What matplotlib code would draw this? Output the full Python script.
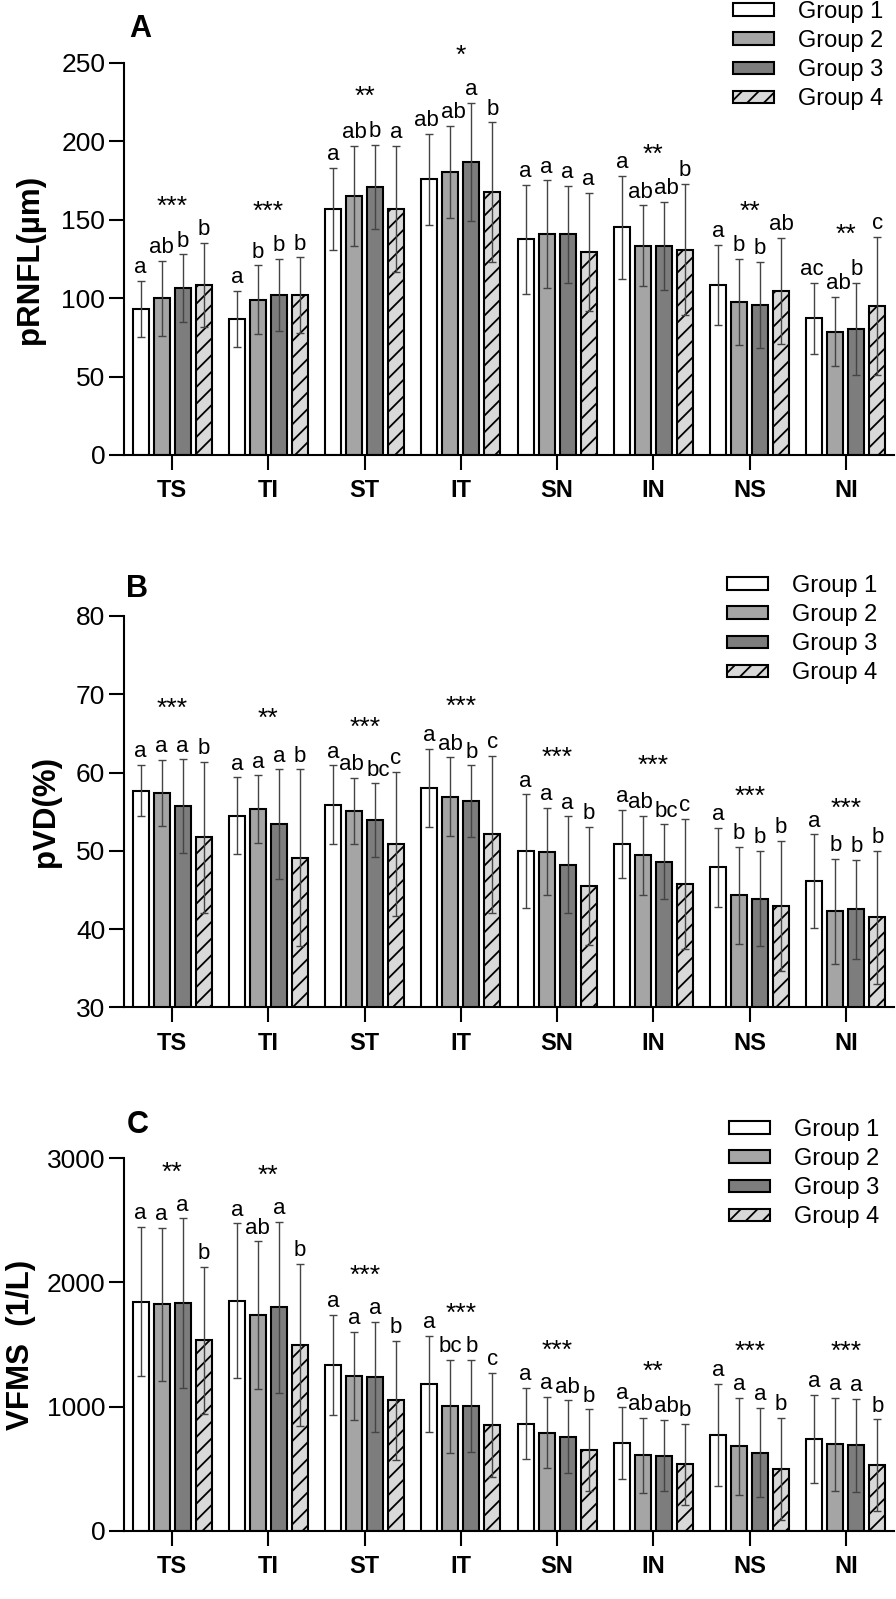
import numpy as np
import matplotlib
matplotlib.use("Agg")
import matplotlib.pyplot as plt

plt.rcParams["font.family"] = ["Liberation Sans", "DejaVu Sans"]
plt.rcParams["hatch.linewidth"] = 1.3

# ============================================================
# Data
# ============================================================
regions = ["TS", "TI", "ST", "IT", "SN", "IN", "NS", "NI"]
groups = ["Group 1", "Group 2", "Group 3", "Group 4"]

# --- Panel A: pRNFL (µm) ---
rnfl_mean = [
    [93.0, 86.7, 157.0, 176.0, 137.5, 145.2, 108.4, 87.2],
    [100.0, 98.9, 165.0, 180.6, 140.7, 133.5, 97.8, 78.7],
    [106.5, 102.0, 171.0, 187.0, 140.7, 133.5, 95.7, 80.6],
    [108.4, 102.0, 157.0, 167.5, 129.7, 131.0, 104.8, 95.0],
]
rnfl_sd = [
    [18.0, 18.0, 26.0, 29.0, 35.0, 33.0, 25.7, 22.5],
    [24.0, 22.0, 32.0, 29.5, 34.5, 25.7, 27.4, 22.0],
    [21.5, 23.0, 27.0, 37.6, 31.0, 28.0, 27.4, 29.4],
    [27.0, 24.0, 40.0, 44.6, 37.6, 41.8, 33.8, 44.0],
]
rnfl_letters = [
    ["a", "ab", "b", "b"], ["a", "b", "b", "b"], ["a", "ab", "b", "a"],
    ["ab", "ab", "a", "b"], ["a", "a", "a", "a"], ["a", "ab", "ab", "b"],
    ["a", "b", "b", "ab"], ["ac", "ab", "b", "c"],
]
rnfl_stars = ["***", "***", "**", "*", "", "**", "**", "**"]

# --- Panel B: pVD (%) ---
pvd_mean = [
    [57.7, 54.5, 55.9, 58.0, 49.95, 50.85, 47.9, 46.1],
    [57.4, 55.3, 55.1, 56.9, 49.9, 49.4, 44.3, 42.25],
    [55.7, 53.4, 53.9, 56.3, 48.2, 48.6, 43.9, 42.5],
    [51.7, 49.1, 50.85, 52.1, 45.5, 45.8, 43.0, 41.5],
]
pvd_sd = [
    [3.3, 4.9, 5.0, 5.0, 7.25, 4.35, 5.05, 6.0],
    [4.2, 4.35, 4.2, 5.05, 5.6, 5.1, 6.2, 6.7],
    [6.0, 7.0, 4.7, 4.6, 6.2, 4.8, 6.1, 6.35],
    [9.7, 11.3, 9.2, 10.0, 7.6, 8.3, 8.3, 8.5],
]
pvd_letters = [
    ["a", "a", "a", "b"], ["a", "a", "a", "b"], ["a", "ab", "bc", "c"],
    ["a", "ab", "b", "c"], ["a", "a", "a", "b"], ["a", "ab", "bc", "c"],
    ["a", "b", "b", "b"], ["a", "b", "b", "b"],
]
pvd_stars = ["***", "**", "***", "***", "***", "***", "***", "***"]

# --- Panel C: VFMS (1/L) ---
vfms_mean = [
    [1845, 1853, 1335, 1182, 862, 709, 771, 739],
    [1824, 1738, 1249, 1002, 790, 607, 680, 696],
    [1832, 1800, 1238, 1005, 757, 604, 628, 688],
    [1534, 1499, 1050, 854, 648, 535, 497, 529],
]
vfms_sd = [
    [602, 623, 403, 387, 288, 290, 413, 354],
    [617, 593, 354, 373, 287, 303, 391, 373],
    [685, 687, 446, 370, 293, 288, 360, 373],
    [590, 652, 478, 419, 330, 325, 411, 368],
]
vfms_letters = [
    ["a", "a", "a", "b"], ["a", "ab", "a", "b"], ["a", "a", "a", "b"],
    ["a", "bc", "b", "c"], ["a", "a", "ab", "b"], ["a", "ab", "ab", "b"],
    ["a", "a", "a", "b"], ["a", "a", "a", "b"],
]
vfms_stars = ["**", "**", "***", "***", "***", "**", "***", "***"]

# ============================================================
# Style
# ============================================================
FACE = ["white", "#a5a5a5", "#7d7d7d", "#d9d9d9"]
HATCH = [None, None, None, "//"]
BAR_W = 0.165
PITCH = 0.218
W, H, DPI = 896, 1599, 100


def letter_shifts(labels):
    """Nudge neighbouring two-letter labels apart so they do not collide."""
    dx = [0.0] * len(labels)
    for g in range(len(labels) - 1):
        if len(labels[g]) > 1 and len(labels[g + 1]) > 1:
            dx[g] -= 2.0
            dx[g + 1] += 2.0
    return dx


def draw_panel(ax, means, sds, letters, stars, ylim, yticks, ylabel, label_x,
               star_off):
    x = np.arange(len(regions))
    for g in range(4):
        xpos = x + (g - 1.5) * PITCH
        ax.bar(xpos, means[g], width=BAR_W, color=FACE[g], edgecolor="black",
               linewidth=1.5, hatch=HATCH[g], label=groups[g], zorder=2)
        ax.errorbar(xpos, means[g], yerr=sds[g], fmt="none", ecolor="#444444",
                    elinewidth=1.0, capsize=3.2, capthick=1.0, zorder=3)
    for i in range(len(regions)):
        dx = letter_shifts(letters[i])
        for g in range(4):
            xg = x[i] + (g - 1.5) * PITCH
            ax.annotate(letters[i][g], xy=(xg, means[g][i] + sds[g][i]),
                        xytext=(dx[g], 5.5), textcoords="offset points",
                        ha="center", va="baseline", fontsize=16)
    # significance stars over the middle of each region
    for i in range(len(regions)):
        if not stars[i]:
            continue
        top = max(means[1][i] + sds[1][i], means[2][i] + sds[2][i])
        ax.annotate(stars[i], xy=(x[i], top), xytext=(0, star_off),
                    textcoords="offset points", ha="center", va="baseline",
                    fontsize=19)

    ax.set_xlim(-0.5, len(regions) - 0.5)
    ax.set_ylim(*ylim)
    ax.set_yticks(yticks)
    ax.set_xticks(x)
    ax.set_xticklabels(regions, fontsize=17, fontweight="bold")
    ax.tick_params(axis="y", labelsize=19, length=10.5, width=1.5, pad=3)
    ax.tick_params(axis="x", length=10.5, width=1.5, pad=7)
    for side in ("top", "right"):
        ax.spines[side].set_visible(False)
    for side in ("left", "bottom"):
        ax.spines[side].set_linewidth(1.5)
    ax.set_ylabel(ylabel, fontsize=22.5, fontweight="bold")
    ax.yaxis.set_label_coords(label_x, 0.5)


fig = plt.figure(figsize=(W / DPI, H / DPI), dpi=DPI)

# axes boxes measured in pixels: (left, top, right, bottom)
boxes = [(124, 63, 894, 455), (124, 616, 894, 1007.3), (124, 1158.3, 894, 1530.7)]
axes = [fig.add_axes([l / W, 1 - b / H, (r - l) / W, (b - t) / H])
        for l, t, r, b in boxes]

draw_panel(axes[0], rnfl_mean, rnfl_sd, rnfl_letters, rnfl_stars,
           (0, 250), [0, 50, 100, 150, 200, 250], "pRNFL(µm)", -0.103, 29)
draw_panel(axes[1], pvd_mean, pvd_sd, pvd_letters, pvd_stars,
           (30, 80), [30, 40, 50, 60, 70, 80], "pVD(%)", -0.082, 31)
draw_panel(axes[2], vfms_mean, vfms_sd, vfms_letters, vfms_stars,
           (0, 3000), [0, 1000, 2000, 3000], "VFMS  (1/L)", -0.114, 28)

# panel letters
for letter, (px, py) in zip("ABC", [(140, 37), (137.5, 597), (138, 1133)]):
    fig.text(px / W, 1 - py / H, letter, ha="center", va="baseline",
             fontsize=22, fontweight="bold")

# legends (top right of each panel)
for ax, (lx, ly) in zip(axes, [(733, 1), (727, 575), (729, 1119)]):
    ax.legend(loc="upper left", bbox_to_anchor=(lx / W, 1 - ly / H),
              bbox_transform=fig.transFigure, frameon=False, fontsize=17,
              handlelength=1.72, handleheight=0.43, handletextpad=1.05,
              labelspacing=0.3, borderpad=0, borderaxespad=0)

fig.savefig("out.png", dpi=DPI)
